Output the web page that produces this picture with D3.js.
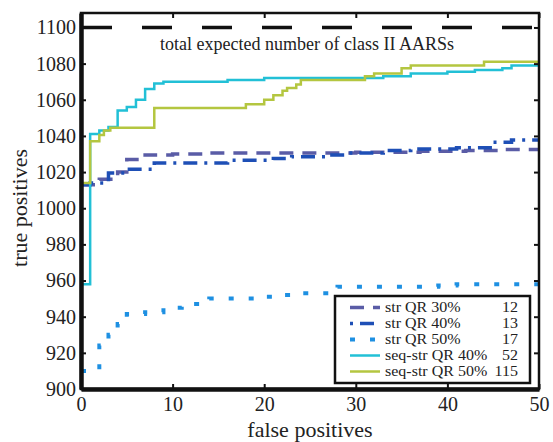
<!DOCTYPE html>
<html>
<head>
<meta charset="utf-8">
<script src="https://cdn.jsdelivr.net/npm/d3@7"></script>
<style>
  body { margin: 0; background: #fff; }
  text { font-family: "Liberation Serif", "DejaVu Serif", serif; }
</style>
</head>
<body>
<script>
// step curves: [false positives, true positives]
var strQR30 = [[0,1013],[2,1016],[4,1020],[5,1027],[7,1029.5],[10,1030],[14,1030.5],[30,1031],[37,1031.5],[42,1032],[46,1032.5],[50,1032.5]];
var strQR40 = [[0,1013],[1,1014],[3,1019.5],[5,1021.5],[8,1025],[16,1026.5],[21,1027.5],[23,1028.5],[27,1029.5],[29,1030.5],[33,1032],[36,1032.8],[41,1033.5],[45,1036.5],[47,1037.8],[50,1037.8]];
var strQR50 = [[0,910],[2,924],[3,930],[4,936],[5,941.5],[7,942.5],[9,945],[11,947],[13,949],[14,950],[20,951],[22,952],[24,953],[28,956.5],[39,957.2],[41,958],[50,958]];
var seqStrQR40 = [[0,958],[1,1041],[2,1043],[3,1045],[4,1054],[5,1056],[6,1060],[7,1066],[8,1069],[9,1070],[16,1071],[20,1072],[33,1073],[36,1074.5],[40,1075.5],[43,1076.5],[46,1077.5],[47,1079],[50,1079]];
var seqStrQR50 = [[0,1014],[1,1037],[2,1040.5],[2.5,1043],[3.2,1044.5],[8,1055.5],[18,1057.5],[20,1060],[21,1062.5],[22,1065],[22.5,1066.5],[23.5,1068.5],[24,1071],[31,1073],[32,1074.5],[35,1077.5],[36,1079],[44,1081],[50,1081]];
var expectedTotal = 1100;

var seriesNames = ["str QR 30%", "str QR 40%", "str QR 50%", "seq-str QR 40%", "seq-str QR 50%"];
var seriesCounts = ["12", "13", "17", "52", "115"];
var xTicks = [0, 10, 20, 30, 40, 50];
var yTicks = [900, 920, 940, 960, 980, 1000, 1020, 1040, 1060, 1080, 1100];

var svgWidth = 553, svgHeight = 442;
var margin = {top: 13, right: 14, bottom: 53, left: 81};
var width = svgWidth - margin.left - margin.right;
var height = svgHeight - margin.top - margin.bottom;

var svg = d3.select("body").append("svg")
  .attr("width", svgWidth)
  .attr("height", svgHeight);

var chartGroup = svg.append("g")
  .attr("transform", "translate(" + margin.left + "," + margin.top + ")");

var xScale = d3.scaleLinear().domain([0, 50]).range([0, width]);
var yScale = d3.scaleLinear().domain([900, 1108]).range([height, 0]);

var styles = [
  {data: strQR30, color: "#5a5ca6", width: 3.5, dash: "14,9", legendOffset: 0},
  {data: strQR40, color: "#1e4fb6", width: 3.5, dash: "14,7,3,7", legendOffset: 21},
  {data: strQR50, color: "#1e90e2", width: 4, dash: "5,15", legendOffset: 0},
  {data: seqStrQR40, color: "#22c0d6", width: 2.5, dash: null, legendOffset: 0},
  {data: seqStrQR50, color: "#b4c640", width: 2.5, dash: null, legendOffset: 0}
];

var line = d3.line()
  .x(d => xScale(d[0]))
  .y(d => yScale(d[1]))
  .curve(d3.curveStepAfter);

// expected total
chartGroup.append("line")
  .attr("x1", xScale(0)).attr("x2", xScale(50))
  .attr("y1", yScale(expectedTotal)).attr("y2", yScale(expectedTotal))
  .attr("stroke", "#111")
  .attr("stroke-width", 3.5)
  .attr("stroke-dasharray", "30,30")
  .attr("stroke-dashoffset", -1);

chartGroup.append("text")
  .attr("x", 226)
  .attr("y", 37)
  .style("text-anchor", "middle")
  .attr("font-size", "18px")
  .attr("fill", "#222")
  .text("total expected number of class II AARSs");

chartGroup.selectAll("path.curve")
  .data(styles)
  .enter()
  .append("path")
  .attr("class", "curve")
  .attr("d", d => line(d.data))
  .attr("fill", "none")
  .attr("stroke", d => d.color)
  .attr("stroke-width", d => d.width)
  .attr("stroke-dasharray", d => d.dash);

// frame: thin top/right, thick left/bottom
chartGroup.append("rect")
  .attr("width", width).attr("height", height)
  .attr("fill", "none").attr("stroke", "#111").attr("stroke-width", 2.5);

var bottomAxis = d3.axisBottom(xScale).tickValues(xTicks).tickSizeInner(-5).tickSizeOuter(0).tickPadding(8).tickFormat(d3.format("d"));
var leftAxis = d3.axisLeft(yScale).tickValues(yTicks).tickSizeInner(-5).tickSizeOuter(0).tickPadding(5).tickFormat(d3.format("d"));
var topAxis = d3.axisTop(xScale).tickValues(xTicks).tickSizeInner(-5).tickSizeOuter(0).tickFormat("");
var rightAxis = d3.axisRight(yScale).tickValues(yTicks).tickSizeInner(-5).tickSizeOuter(0).tickFormat("");

chartGroup.append("g").call(topAxis).select(".domain").remove();
chartGroup.append("g").attr("transform", "translate(" + width + ",0)").call(rightAxis).select(".domain").remove();

var gx = chartGroup.append("g")
  .attr("transform", "translate(0," + height + ")")
  .call(bottomAxis);
var gy = chartGroup.append("g").call(leftAxis);

[gx, gy].forEach(function(g) {
  g.select(".domain").attr("stroke", "#111").attr("stroke-width", 4.5);
  g.selectAll(".tick text")
    .attr("font-family", "Liberation Serif, serif")
    .attr("font-size", "20px")
    .attr("fill", "#222");
});
chartGroup.selectAll(".tick line").attr("stroke", "#111").attr("stroke-width", 2);

// legend
var legend = svg.append("g").attr("transform", "translate(335,296)");
legend.append("rect")
  .attr("width", 195).attr("height", 87)
  .attr("fill", "#fff").attr("stroke", "#111").attr("stroke-width", 2.5);

var rows = legend.selectAll("g.row")
  .data(styles)
  .enter()
  .append("g")
  .attr("class", "row")
  .attr("transform", (d, i) => "translate(0," + (15.5 + i * 16) + ")");

rows.append("line")
  .attr("x1", 15).attr("x2", 45)
  .attr("y1", -4).attr("y2", -4)
  .attr("stroke", d => d.color)
  .attr("stroke-width", d => d.width)
  .attr("stroke-dasharray", d => d.dash)
  .attr("stroke-dashoffset", d => d.legendOffset);

rows.append("text")
  .attr("transform", "translate(50,0) scale(1.16,1)")
  .attr("font-size", "13.8px")
  .attr("fill", "#222")
  .text((d, i) => seriesNames[i]);

rows.append("text")
  .attr("transform", "translate(183,0) scale(1.16,1)")
  .style("text-anchor", "end")
  .attr("font-size", "13.8px")
  .attr("fill", "#222")
  .text((d, i) => seriesCounts[i]);

// axis labels
svg.append("text")
  .attr("x", margin.left + width / 2)
  .attr("y", 437)
  .style("text-anchor", "middle")
  .attr("font-size", "22px")
  .attr("fill", "#222")
  .text("false positives");

svg.append("text")
  .attr("transform", "rotate(-90)")
  .attr("x", -208)
  .attr("y", 27)
  .style("text-anchor", "middle")
  .attr("font-size", "22px")
  .attr("fill", "#222")
  .text("true positives");
</script>
</body>
</html>
